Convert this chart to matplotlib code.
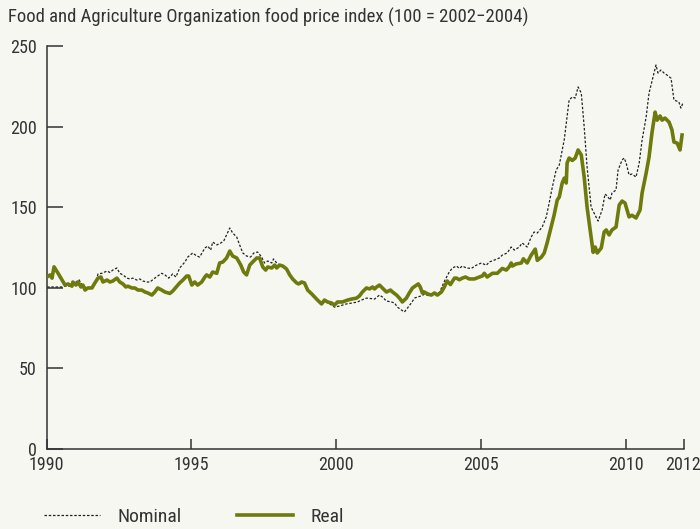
import matplotlib
matplotlib.use("Agg")
import matplotlib.pyplot as plt
from matplotlib import font_manager
from matplotlib.lines import Line2D

# FAO food price index, 2002-2004 = 100
real_year = [
    1990.02, 1990.12, 1990.19, 1990.26, 1990.40, 1990.53, 1990.64, 1990.74, 1990.88, 1990.91,
    1991.02, 1991.09, 1991.19, 1991.26, 1991.33, 1991.43, 1991.57, 1991.67, 1991.78, 1991.88,
    1991.95, 1992.09, 1992.19, 1992.29, 1992.43, 1992.53, 1992.64, 1992.74, 1992.81, 1992.95,
    1993.05, 1993.16, 1993.29, 1993.40, 1993.50, 1993.64, 1993.74, 1993.84, 1993.98, 1994.09,
    1994.26, 1994.36, 1994.60, 1994.71, 1994.84, 1994.91, 1995.02, 1995.12, 1995.22, 1995.36,
    1995.47, 1995.53, 1995.64, 1995.74, 1995.88, 1995.98, 1996.09, 1996.22, 1996.33, 1996.43,
    1996.57, 1996.71, 1996.81, 1996.91, 1997.02, 1997.12, 1997.26, 1997.36, 1997.47, 1997.57,
    1997.64, 1997.78, 1997.88, 1997.95, 1998.05, 1998.16, 1998.29, 1998.40, 1998.50, 1998.64,
    1998.71, 1998.81, 1998.91, 1999.02, 1999.16, 1999.26, 1999.36, 1999.50, 1999.60, 1999.71,
    1999.84, 1999.95, 2000.05, 2000.22, 2000.40, 2000.53, 2000.71, 2000.81, 2000.91, 2001.05,
    2001.16, 2001.26, 2001.33, 2001.40, 2001.50, 2001.60, 2001.74, 2001.88, 2001.95, 2002.09,
    2002.19, 2002.29, 2002.43, 2002.53, 2002.64, 2002.78, 2002.84, 2002.91, 2002.98, 2003.05,
    2003.16, 2003.29, 2003.40, 2003.50, 2003.64, 2003.74, 2003.84, 2003.95, 2004.09, 2004.16,
    2004.26, 2004.36, 2004.47, 2004.60, 2004.78, 2004.95, 2005.05, 2005.12, 2005.22, 2005.40,
    2005.57, 2005.74, 2005.88, 2005.98, 2006.05, 2006.09, 2006.22, 2006.40, 2006.47, 2006.60,
    2006.74, 2006.88, 2006.95, 2007.09, 2007.19, 2007.29, 2007.43, 2007.53, 2007.64, 2007.71,
    2007.81, 2007.88, 2007.95, 2007.98, 2008.05, 2008.16, 2008.26, 2008.36, 2008.47, 2008.57,
    2008.67, 2008.81, 2008.88, 2008.95, 2009.02, 2009.16, 2009.26, 2009.33, 2009.43, 2009.53,
    2009.67, 2009.78, 2009.88, 2009.98, 2010.12, 2010.22, 2010.36, 2010.50, 2010.57, 2010.71,
    2010.81, 2010.91, 2011.02, 2011.09, 2011.19, 2011.26, 2011.36, 2011.50, 2011.60, 2011.67,
    2011.78, 2011.88, 2011.95,
]
real_index = [
    106.7, 108.0, 106.0, 113.0, 109.0, 105.0, 101.7, 102.4, 101.0, 103.6,
    101.7, 103.6, 100.5, 101.7, 98.6, 99.9, 99.9, 103.0, 106.0, 106.7,
    103.6, 104.8, 103.6, 104.2, 106.0, 103.6, 102.4, 100.5, 101.0, 99.9,
    99.9, 98.6, 98.6, 97.4, 96.8, 95.5, 97.4, 99.9, 98.6, 97.4,
    96.5, 98.0, 103.0, 104.8, 107.3, 107.3, 101.7, 103.6, 101.7, 103.6,
    106.7, 108.0, 106.7, 109.8, 109.0, 115.4, 116.0, 118.5, 122.8, 119.7,
    118.5, 114.1, 109.8, 108.0, 114.1, 116.0, 118.5, 118.5, 112.9, 111.0,
    112.9, 112.3, 114.1, 112.3, 114.1, 113.5, 111.7, 108.0, 105.5, 103.0,
    102.4, 103.6, 103.0, 98.6, 96.2, 94.3, 92.4, 90.0, 92.4, 91.2,
    90.6, 89.3, 91.2, 91.2, 92.4, 93.0, 93.6, 95.0, 97.4, 99.9,
    99.3, 100.5, 99.3, 100.5, 101.7, 99.9, 97.4, 98.6, 97.4, 95.5,
    93.6, 91.2, 93.6, 96.8, 99.9, 101.7, 102.4, 100.5, 96.8, 97.4,
    96.2, 95.5, 96.8, 95.5, 97.4, 100.5, 104.2, 102.0, 106.0, 106.0,
    105.0, 106.0, 106.7, 105.5, 105.5, 106.7, 107.3, 109.0, 106.7, 109.0,
    109.0, 112.0, 111.0, 113.0, 115.4, 113.5, 114.8, 115.4, 118.0, 115.4,
    120.3, 124.0, 117.0, 119.0, 121.6, 127.8, 137.7, 145.0, 154.5, 156.3,
    165.0, 168.0, 165.0, 177.4, 180.5, 179.0, 180.5, 185.5, 182.4, 168.7,
    150.0, 131.5, 122.0, 125.3, 121.6, 124.7, 134.6, 135.9, 132.8, 135.9,
    137.7, 151.4, 153.8, 152.6, 144.0, 145.0, 143.3, 148.3, 158.8, 171.2,
    181.1, 196.0, 209.0, 204.0, 206.6, 204.0, 205.3, 202.8, 198.0, 190.4,
    189.8, 185.5, 194.8,
]

nominal_year = [
    1990.02, 1990.29, 1990.53, 1990.64, 1990.81, 1990.98, 1991.12, 1991.26, 1991.40, 1991.57,
    1991.67, 1991.78, 1991.91, 1992.09, 1992.19, 1992.29, 1992.43, 1992.53, 1992.64, 1992.78,
    1992.88, 1992.98, 1993.12, 1993.22, 1993.33, 1993.47, 1993.57, 1993.74, 1993.84, 1993.98,
    1994.09, 1994.22, 1994.36, 1994.47, 1994.60, 1994.78, 1994.88, 1995.05, 1995.19, 1995.29,
    1995.47, 1995.57, 1995.67, 1995.74, 1995.88, 1996.02, 1996.12, 1996.22, 1996.33, 1996.43,
    1996.57, 1996.67, 1996.78, 1996.91, 1997.05, 1997.16, 1997.29, 1997.43, 1997.53, 1997.64,
    1997.78, 1997.84, 1997.95, 1998.05, 1998.16, 1998.29, 1998.40, 1998.50, 1998.64, 1998.74,
    1998.91, 1999.02, 1999.16, 1999.26, 1999.36, 1999.50, 1999.64, 1999.78, 1999.95, 2000.12,
    2000.36, 2000.57, 2000.74, 2000.88, 2001.05, 2001.22, 2001.33, 2001.50, 2001.60, 2001.74,
    2001.91, 2002.02, 2002.12, 2002.26, 2002.36, 2002.47, 2002.60, 2002.71, 2002.81, 2002.95,
    2003.05, 2003.22, 2003.40, 2003.57, 2003.74, 2003.91, 2004.02, 2004.16, 2004.26, 2004.36,
    2004.50, 2004.67, 2004.84, 2005.02, 2005.19, 2005.29, 2005.47, 2005.64, 2005.74, 2005.91,
    2006.05, 2006.16, 2006.33, 2006.43, 2006.60, 2006.74, 2006.84, 2006.95, 2007.12, 2007.26,
    2007.36, 2007.47, 2007.60, 2007.71, 2007.88, 2008.05, 2008.16, 2008.26, 2008.36, 2008.47,
    2008.57, 2008.67, 2008.81, 2008.91, 2008.98, 2009.05, 2009.19, 2009.29, 2009.36, 2009.47,
    2009.53, 2009.67, 2009.74, 2009.88, 2009.95, 2010.02, 2010.12, 2010.22, 2010.36, 2010.47,
    2010.57, 2010.71, 2010.81, 2010.95, 2011.05, 2011.12, 2011.22, 2011.33, 2011.43, 2011.57,
    2011.67, 2011.84, 2011.91, 2011.98,
]
nominal_index = [
    100.5, 100.5, 100.5, 101.0, 101.0, 103.0, 105.0, 101.0, 99.9, 100.5,
    102.0, 108.6, 109.0, 110.4, 109.5, 111.0, 112.3, 109.0, 108.0, 106.0,
    105.5, 106.0, 104.8, 105.5, 104.2, 103.6, 103.6, 106.0, 107.3, 109.0,
    108.0, 106.0, 108.6, 106.7, 112.3, 116.0, 119.1, 121.6, 119.7, 119.1,
    124.7, 125.9, 123.4, 128.4, 126.6, 127.8, 129.0, 132.8, 137.1, 134.0,
    131.5, 126.6, 121.6, 119.7, 119.1, 121.6, 122.2, 119.1, 115.4, 116.6,
    115.4, 117.9, 115.4, 114.0, 113.5, 111.7, 108.0, 105.5, 103.0, 102.4,
    103.0, 98.6, 96.0, 94.0, 92.0, 90.0, 91.5, 90.0, 88.0, 88.7,
    90.0, 90.6, 91.2, 92.4, 93.6, 93.3, 93.0, 95.5, 94.3, 91.8,
    91.2, 90.6, 88.0, 86.2, 85.0, 87.5, 90.6, 93.6, 94.3, 95.0,
    96.0, 95.0, 96.0, 97.0, 104.0, 109.8, 112.3, 113.5, 112.0, 113.5,
    112.3, 112.0, 114.0, 115.4, 114.0, 116.0, 117.2, 118.5, 120.3, 121.6,
    125.3, 123.4, 125.3, 127.8, 125.3, 131.5, 134.6, 134.0, 137.7, 144.0,
    152.6, 162.5, 173.0, 176.2, 191.7, 216.5, 218.4, 217.7, 224.6, 220.8,
    199.8, 175.0, 150.0, 146.4, 144.0, 141.4, 148.3, 158.2, 157.0, 154.5,
    158.8, 160.7, 173.0, 179.3, 180.5, 177.4, 170.0, 170.6, 168.7, 177.4,
    191.7, 206.0, 220.8, 230.8, 238.2, 233.2, 235.1, 233.2, 232.0, 230.0,
    216.5, 215.3, 211.5, 214.6,
]

x_ticks = [1990, 1995, 2000, 2005, 2010, 2012]
y_ticks = [0, 50, 100, 150, 200, 250]

title_text = "Food and Agriculture Organization food price index (100 = 2002\u22122004)"
legend_labels = ["Nominal", "Real"]

bg = "#f7f7f2"
ink = "#333333"
olive = "#6e7a0c"

# pick a narrow face if one is installed, otherwise fall back to Liberation Sans
installed = {f.name for f in font_manager.fontManager.ttflist}
narrow = [n for n in ("Roboto Condensed", "Liberation Sans Narrow", "Open Sans Condensed",
                      "Noto Sans Condensed", "DejaVu Sans Condensed") if n in installed]
if narrow:
    family, label_size, title_size, legend_size = narrow[0], 13, 13.5, 14
else:
    family, label_size, title_size, legend_size = "Liberation Sans", 11, 11.4, 11.5
plt.rcParams["font.family"] = [family, "DejaVu Sans"]

fig = plt.figure(figsize=(7.0, 5.29), dpi=100, facecolor=bg)
ax = fig.add_axes([46.5 / 700, 80 / 529, 637 / 700, 403 / 529])
ax.set_facecolor(bg)

# nominal underneath, real drawn on top
ax.plot(nominal_year, nominal_index, color="#222222", lw=0.9, ls=(0, (2.0, 1.4)),
        label="Nominal", zorder=2)
ax.plot(real_year, real_index, color=olive, lw=2.6, label="Real", zorder=3,
        solid_joinstyle="round")

ax.set_xlim(1990, 2012)
ax.set_ylim(0, 250)
ax.set_xticks(x_ticks)
ax.set_yticks(y_ticks)

for side in ("top", "right"):
    ax.spines[side].set_visible(False)
for side in ("left", "bottom"):
    ax.spines[side].set_color(ink)
    ax.spines[side].set_linewidth(1.1)

ax.tick_params(axis="y", direction="in", length=11.5, width=1.1, color=ink,
               labelcolor=ink, labelsize=label_size, pad=7)
ax.tick_params(axis="x", direction="in", length=7, width=1.1, color=ink,
               labelcolor=ink, labelsize=label_size, pad=5)

fig.text(8 / 700, 1 - 17 / 529, title_text, fontsize=title_size, color=ink,
         va="center", ha="left")

handles = [
    Line2D([], [], color="#222222", lw=0.9, ls=(0, (2.0, 1.4))),
    Line2D([], [], color=olive, lw=2.6),
]
fig.legend(handles, legend_labels, ncol=2, loc="center left",
           bbox_to_anchor=(44 / 700, 1 - 517 / 529), frameon=False,
           fontsize=legend_size, labelcolor=ink, handlelength=2.9, handletextpad=0.9,
           columnspacing=2.8, borderpad=0, borderaxespad=0)

fig.savefig("out.png", dpi=100, facecolor=bg)
